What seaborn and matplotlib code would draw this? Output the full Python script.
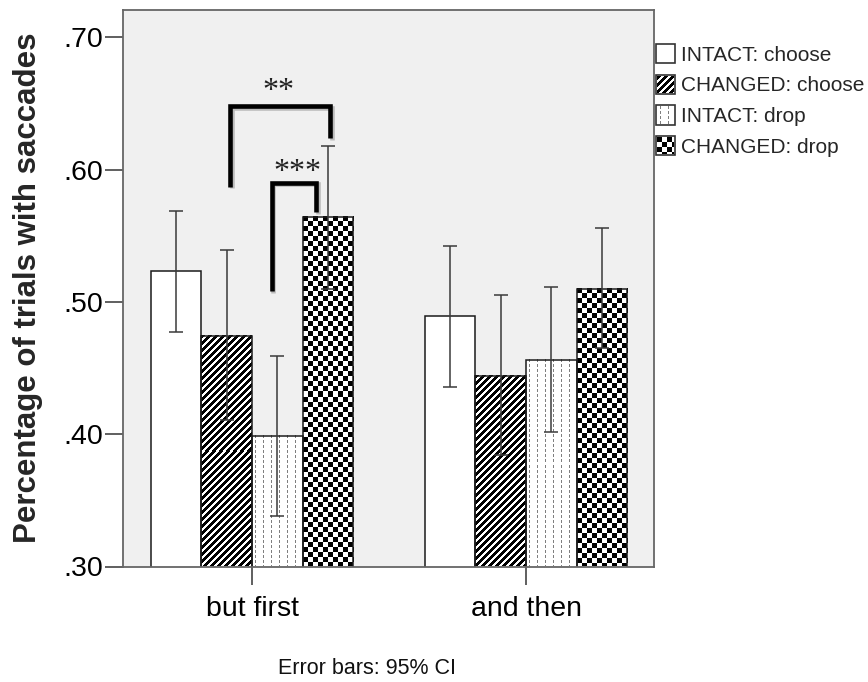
import numpy as np
import pandas as pd
import matplotlib
matplotlib.use("Agg")
import matplotlib.pyplot as plt
import matplotlib.patheffects as pe
from matplotlib.patches import Patch
from matplotlib.ticker import FuncFormatter
import seaborn as sns

# ---- data -----------------------------------------------------------------
cues = ["but first", "and then"]
conditions = ["INTACT: choose", "CHANGED: choose", "INTACT: drop", "CHANGED: drop"]

mean_intact_choose = [0.523, 0.489]
mean_changed_choose = [0.474, 0.444]
mean_intact_drop = [0.399, 0.456]
mean_changed_drop = [0.564, 0.510]

ci_low_intact_choose = [0.477, 0.436]
ci_low_changed_choose = [0.411, 0.384]
ci_low_intact_drop = [0.338, 0.402]
ci_low_changed_drop = [0.510, 0.465]

ci_high_intact_choose = [0.569, 0.542]
ci_high_changed_choose = [0.539, 0.505]
ci_high_intact_drop = [0.459, 0.511]
ci_high_changed_drop = [0.618, 0.556]

y_ticks = [0.30, 0.40, 0.50, 0.60, 0.70]

# significance brackets:
# (x_left, x_right, y_left_end, y_right_end, y_top, label, label_x, label_y)
brackets = [
    (-0.081, 0.285, 0.587, 0.624, 0.648, "**", 0.096, 0.662),
    (0.072, 0.234, 0.508, 0.568, 0.590, "***", 0.164, 0.6005),
]

means = [mean_intact_choose, mean_changed_choose, mean_intact_drop, mean_changed_drop]
lows = [ci_low_intact_choose, ci_low_changed_choose, ci_low_intact_drop, ci_low_changed_drop]
highs = [ci_high_intact_choose, ci_high_changed_choose, ci_high_intact_drop, ci_high_changed_drop]

df = pd.DataFrame({
    "cue": [c for _ in conditions for c in cues],
    "condition": [cond for cond in conditions for _ in cues],
    "proportion": [v for m in means for v in m],
})

# ---- style ----------------------------------------------------------------
sns.set_style("white")
plt.rcParams["font.family"] = ["Liberation Sans", "DejaVu Sans"]

W, H, DPI = 868, 682, 100
fig = plt.figure(figsize=(W / DPI, H / DPI), dpi=DPI)
fig.patch.set_facecolor("white")
ax = fig.add_axes([123 / W, 1 - 566.5 / H, (654 - 123) / W, (566.5 - 9.5) / H])
ax.set_facecolor("#f0f0f0")

sns.barplot(data=df, x="cue", y="proportion", hue="condition",
            hue_order=conditions, order=cues, width=0.74,
            palette=["white"] * 4, edgecolor="#1a1a1a", linewidth=1.1,
            errorbar=None, legend=False, ax=ax)

XLIM = (-0.471, 1.467)
YLIM = (0.30, 0.721)
ax.set_xlim(*XLIM)
ax.set_ylim(*YLIM)


# ---- fill textures --------------------------------------------------------
def tex_stripes(h, w):
    yy, xx = np.mgrid[0:h, 0:w]
    black = ((xx + yy) % 7) < 4
    arr = np.ones((h, w, 3))
    arr[black] = 0.0
    return arr


def tex_dots(h, w):
    yy, xx = np.mgrid[0:h, 0:w]
    dot = ((xx % 8) == 3) & ((yy % 5) < 3)
    arr = np.ones((h, w, 3))
    arr[dot] = 0.5
    return arr


def tex_checker(h, w):
    yy, xx = np.mgrid[0:h, 0:w]
    black = ((xx // 5 + yy // 5) % 2) == 0
    arr = np.ones((h, w, 3))
    arr[black] = 0.0
    return arr


textures = [None, tex_stripes, tex_dots, tex_checker]

for tex, container in zip(textures, ax.containers):
    for bar in container:
        bar.set_zorder(1.5)
        if tex is None:
            continue
        x0, x1 = bar.get_x(), bar.get_x() + bar.get_width()
        y0, y1 = max(bar.get_y(), YLIM[0]), bar.get_y() + bar.get_height()
        (px0, py0), (px1, py1) = ax.transData.transform([(x0, y0), (x1, y1)])
        w_px = max(int(round(px1 - px0)), 1)
        h_px = max(int(round(py1 - py0)), 1)
        ax.imshow(tex(h_px, w_px), extent=(x0, x1, y0, y1), origin="upper",
                  aspect="auto", interpolation="nearest", zorder=1.2)
        bar.set_facecolor("none")

# ---- error bars -----------------------------------------------------------
for container, m, lo, hi in zip(ax.containers, means, lows, highs):
    for bar, mv, lv, hv in zip(container, m, lo, hi):
        xc = bar.get_x() + bar.get_width() / 2
        ax.errorbar([xc], [mv], yerr=[[mv - lv], [hv - mv]], fmt="none",
                    ecolor="#3a3a3a", elinewidth=1.1, capsize=4.7,
                    capthick=1.1, zorder=3)

ax.set_xlim(*XLIM)
ax.set_ylim(*YLIM)

# ---- significance brackets -------------------------------------------------
for xl, xr, yl, yr, yt, lab, lx, ly in brackets:
    ax.plot([xl, xl, xr, xr], [yl, yt, yt, yr], color="black", lw=3.3,
            solid_joinstyle="miter", solid_capstyle="butt", zorder=4,
            path_effects=[pe.SimpleLineShadow(offset=(1.2, -1.2), shadow_color="#888888", alpha=0.5),
                          pe.Normal()])
    ax.text(lx, ly, lab, ha="center", va="center_baseline",
            fontsize=23, family="Liberation Serif", color="#222222", zorder=4)

# ---- axes, ticks, labels --------------------------------------------------
ax.set_yticks(y_ticks)
ax.yaxis.set_major_formatter(FuncFormatter(lambda v, _: f"{v:.2f}".lstrip("0")))
ax.set_xticks(range(len(cues)))
ax.set_xticklabels(cues)
ax.tick_params(axis="both", direction="out", length=13, width=1.2, color="#444444",
               labelsize=20.5, labelcolor="black", left=True, bottom=True)
ax.tick_params(axis="y", pad=1)
ax.tick_params(axis="x", pad=8.5)
for s in ax.spines.values():
    s.set_color("#666666")
    s.set_linewidth(1.3)

ax.set_xlabel("")
ax.set_ylabel("Percentage of trials with saccades", fontsize=22.5, fontweight="bold")
ax.yaxis.set_label_coords(-0.15, 0.5)

# ---- legend ----------------------------------------------------------------
handles = [Patch(facecolor="white", edgecolor="#333333", linewidth=1.2, label=c)
           for c in conditions]
leg = ax.legend(handles=handles, loc="upper left",
                bbox_to_anchor=(656 / W, 1 - 44 / H), bbox_transform=fig.transFigure,
                frameon=False, borderpad=0, borderaxespad=0, handlelength=0.9,
                handleheight=1.05, handletextpad=0.3, labelspacing=0.475, fontsize=15)

fig.text(367.5 / W, 1 - 668 / H, "Error bars: 95% CI", ha="center", va="center",
         fontsize=15.5, color="#111111")

# textures for the legend keys, placed in pixel space once the layout is known
fig.canvas.draw()
renderer = fig.canvas.get_renderer()
for tex, h in zip(textures, leg.legend_handles):
    if tex is None:
        continue
    bb = h.get_window_extent(renderer)
    x0, y0 = int(round(bb.x0)) + 1, int(round(bb.y0)) + 1
    w_px = int(round(bb.x1)) - 1 - x0
    h_px = int(round(bb.y1)) - 1 - y0
    fig.figimage(tex(h_px, w_px), xo=x0, yo=y0, origin="upper", zorder=10)

fig.savefig("out.png", dpi=DPI)
